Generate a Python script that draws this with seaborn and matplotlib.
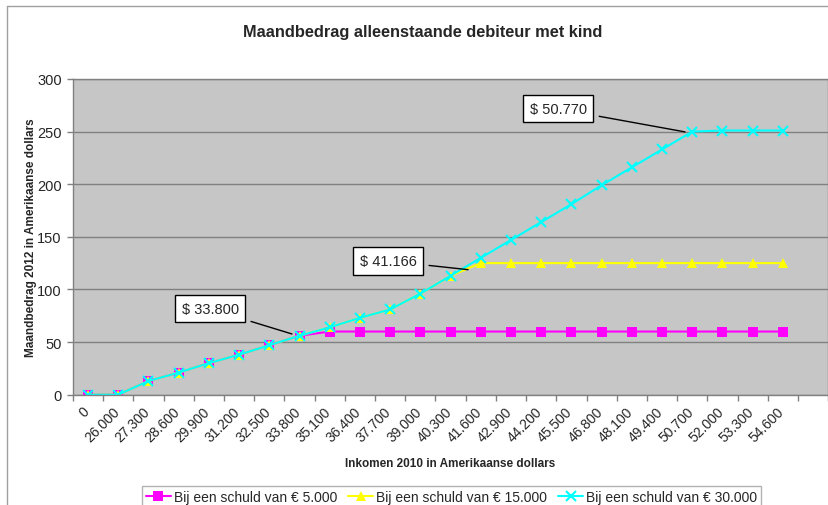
import numpy as np
import pandas as pd
import matplotlib
matplotlib.use("Agg")
import matplotlib.pyplot as plt
import matplotlib.transforms as mtransforms
import seaborn as sns
from matplotlib.lines import Line2D


inkomen = ["0", "26.000", "27.300", "28.600", "29.900", "31.200", "32.500",
           "33.800", "35.100", "36.400", "37.700", "39.000", "40.300",
           "41.600", "42.900", "44.200", "45.500", "46.800", "48.100",
           "49.400", "50.700", "52.000", "53.300", "54.600"]

schuld_5000 = [0, 0, 13, 21, 30, 38, 47, 56, 60, 60, 60, 60, 60,
               60, 60, 60, 60, 60, 60, 60, 60, 60, 60, 60]
schuld_15000 = [0, 0, 13, 21, 30, 38, 47, 56, 64, 73, 81, 96, 113,
                125, 125, 125, 125, 125, 125, 125, 125, 125, 125, 125]
schuld_30000 = [0, 0, 13, 21, 30, 38, 47, 56, 64, 73, 81, 96, 113,
                130, 147, 164, 181, 199, 216, 233, 250, 251, 251, 251]

series_names = ["Bij een schuld van € 5.000",
                "Bij een schuld van € 15.000",
                "Bij een schuld van € 30.000"]
series_colors = ["#FF00FF", "#FFFF00", "#00FFFF"]
series_markers = ["s", "^", "x"]


data = pd.DataFrame({
    "pos": list(range(len(inkomen))) * 3,
    "bedrag": schuld_5000 + schuld_15000 + schuld_30000,
    "serie": np.repeat(series_names, len(inkomen)),
})


sns.set_style("white")
plt.rcParams["font.family"] = ["Liberation Sans", "DejaVu Sans"]

fig = plt.figure(figsize=(8.29, 5.06), dpi=100)
ax = fig.add_axes([0.088, 0.218, 0.911, 0.624])
ax.set_facecolor("#C6C6C6")

for name, color, marker in zip(series_names, series_colors, series_markers):
    sub = data[data["serie"] == name]
    sns.lineplot(
        data=sub,
        x="pos",
        y="bedrag",
        color=color,
        marker=marker,
        markersize=7,
        markeredgewidth=1.5 if marker == "x" else 0,
        markeredgecolor=color,
        linewidth=1.5,
        ax=ax,
        label=name,
        legend=False,
    )

ax.set_xlim(-0.5, 24.5)
ax.set_ylim(0, 300)
ax.set_yticks(range(0, 301, 50))
ax.yaxis.grid(True, color="#808080", linewidth=1)
ax.set_axisbelow(True)

ax.set_xticks(range(len(inkomen)))
ax.set_xticklabels(inkomen, rotation=45, ha="right", rotation_mode="anchor",
                   fontsize=10)
ax.set_xticks(np.arange(-0.5, 25, 1), minor=True)
ax.tick_params(axis="x", which="major", length=0, pad=9)
ax.tick_params(axis="x", which="minor", length=4, color="#808080", width=1,
               direction="out", bottom=True)
ax.tick_params(axis="y", length=4, color="#808080", width=1, direction="out",
               left=True, labelsize=10.5, pad=4)

# nudge the slanted labels a little to the left and up
shift = mtransforms.ScaledTranslation(-6 / 100, 3 / 100, fig.dpi_scale_trans)
for lbl in ax.get_xticklabels():
    lbl.set_transform(lbl.get_transform() + shift)

for side in ["top", "right", "left", "bottom"]:
    ax.spines[side].set_visible(True)
    ax.spines[side].set_color("#808080")
    ax.spines[side].set_linewidth(1)

ax.set_xlabel("Inkomen 2010 in Amerikaanse dollars", fontsize=8.5,
              fontweight="bold", labelpad=9)
ax.set_ylabel("Maandbedrag 2012 in Amerikaanse dollars", fontsize=8.5,
              fontweight="bold", labelpad=0)

fig.suptitle("Maandbedrag alleenstaande debiteur met kind", fontsize=11.8,
             fontweight="bold", x=0.51, y=0.95)

box = dict(boxstyle="square,pad=0.45", fc="white", ec="black", lw=1)
line = dict(arrowstyle="-", color="black", lw=1, shrinkA=4, shrinkB=0)

ax.annotate("$ 33.800", xy=(6.75, 57.7), xytext=(4.04, 81.5),
            ha="center", va="center", fontsize=10.5, bbox=box,
            arrowprops=line)
ax.annotate("$ 41.166", xy=(12.58, 118.8), xytext=(9.93, 127),
            ha="center", va="center", fontsize=10.5, bbox=box,
            arrowprops=line)
ax.annotate("$ 50.770", xy=(19.76, 249.7), xytext=(15.56, 271.6),
            ha="center", va="center", fontsize=10.5, bbox=box,
            arrowprops=line)

handles = [Line2D([0], [0], color=c, marker=m, markersize=7,
                  markeredgewidth=1.5 if m == "x" else 0,
                  markeredgecolor=c, linewidth=1.5)
           for c, m in zip(series_colors, series_markers)]
leg = fig.legend(handles, series_names, loc="upper center", ncol=3,
                 bbox_to_anchor=(0.5446, 1 - 487 / 506), fontsize=10,
                 frameon=True, fancybox=False, handlelength=1.8,
                 handletextpad=0.2, columnspacing=0.8,
                 borderpad=0.3, borderaxespad=0)
leg.get_frame().set_edgecolor("#A0A0A0")
leg.get_frame().set_linewidth(1)

# chart area border (top and left, cropped on the other sides)
fig.add_artist(Line2D([7 / 829, 7 / 829], [0, 1 - 7 / 506],
                      transform=fig.transFigure, color="#A0A0A0", lw=1))
fig.add_artist(Line2D([7 / 829, 1], [1 - 7 / 506, 1 - 7 / 506],
                      transform=fig.transFigure, color="#A0A0A0", lw=1))

plt.savefig("out.png", dpi=100)
